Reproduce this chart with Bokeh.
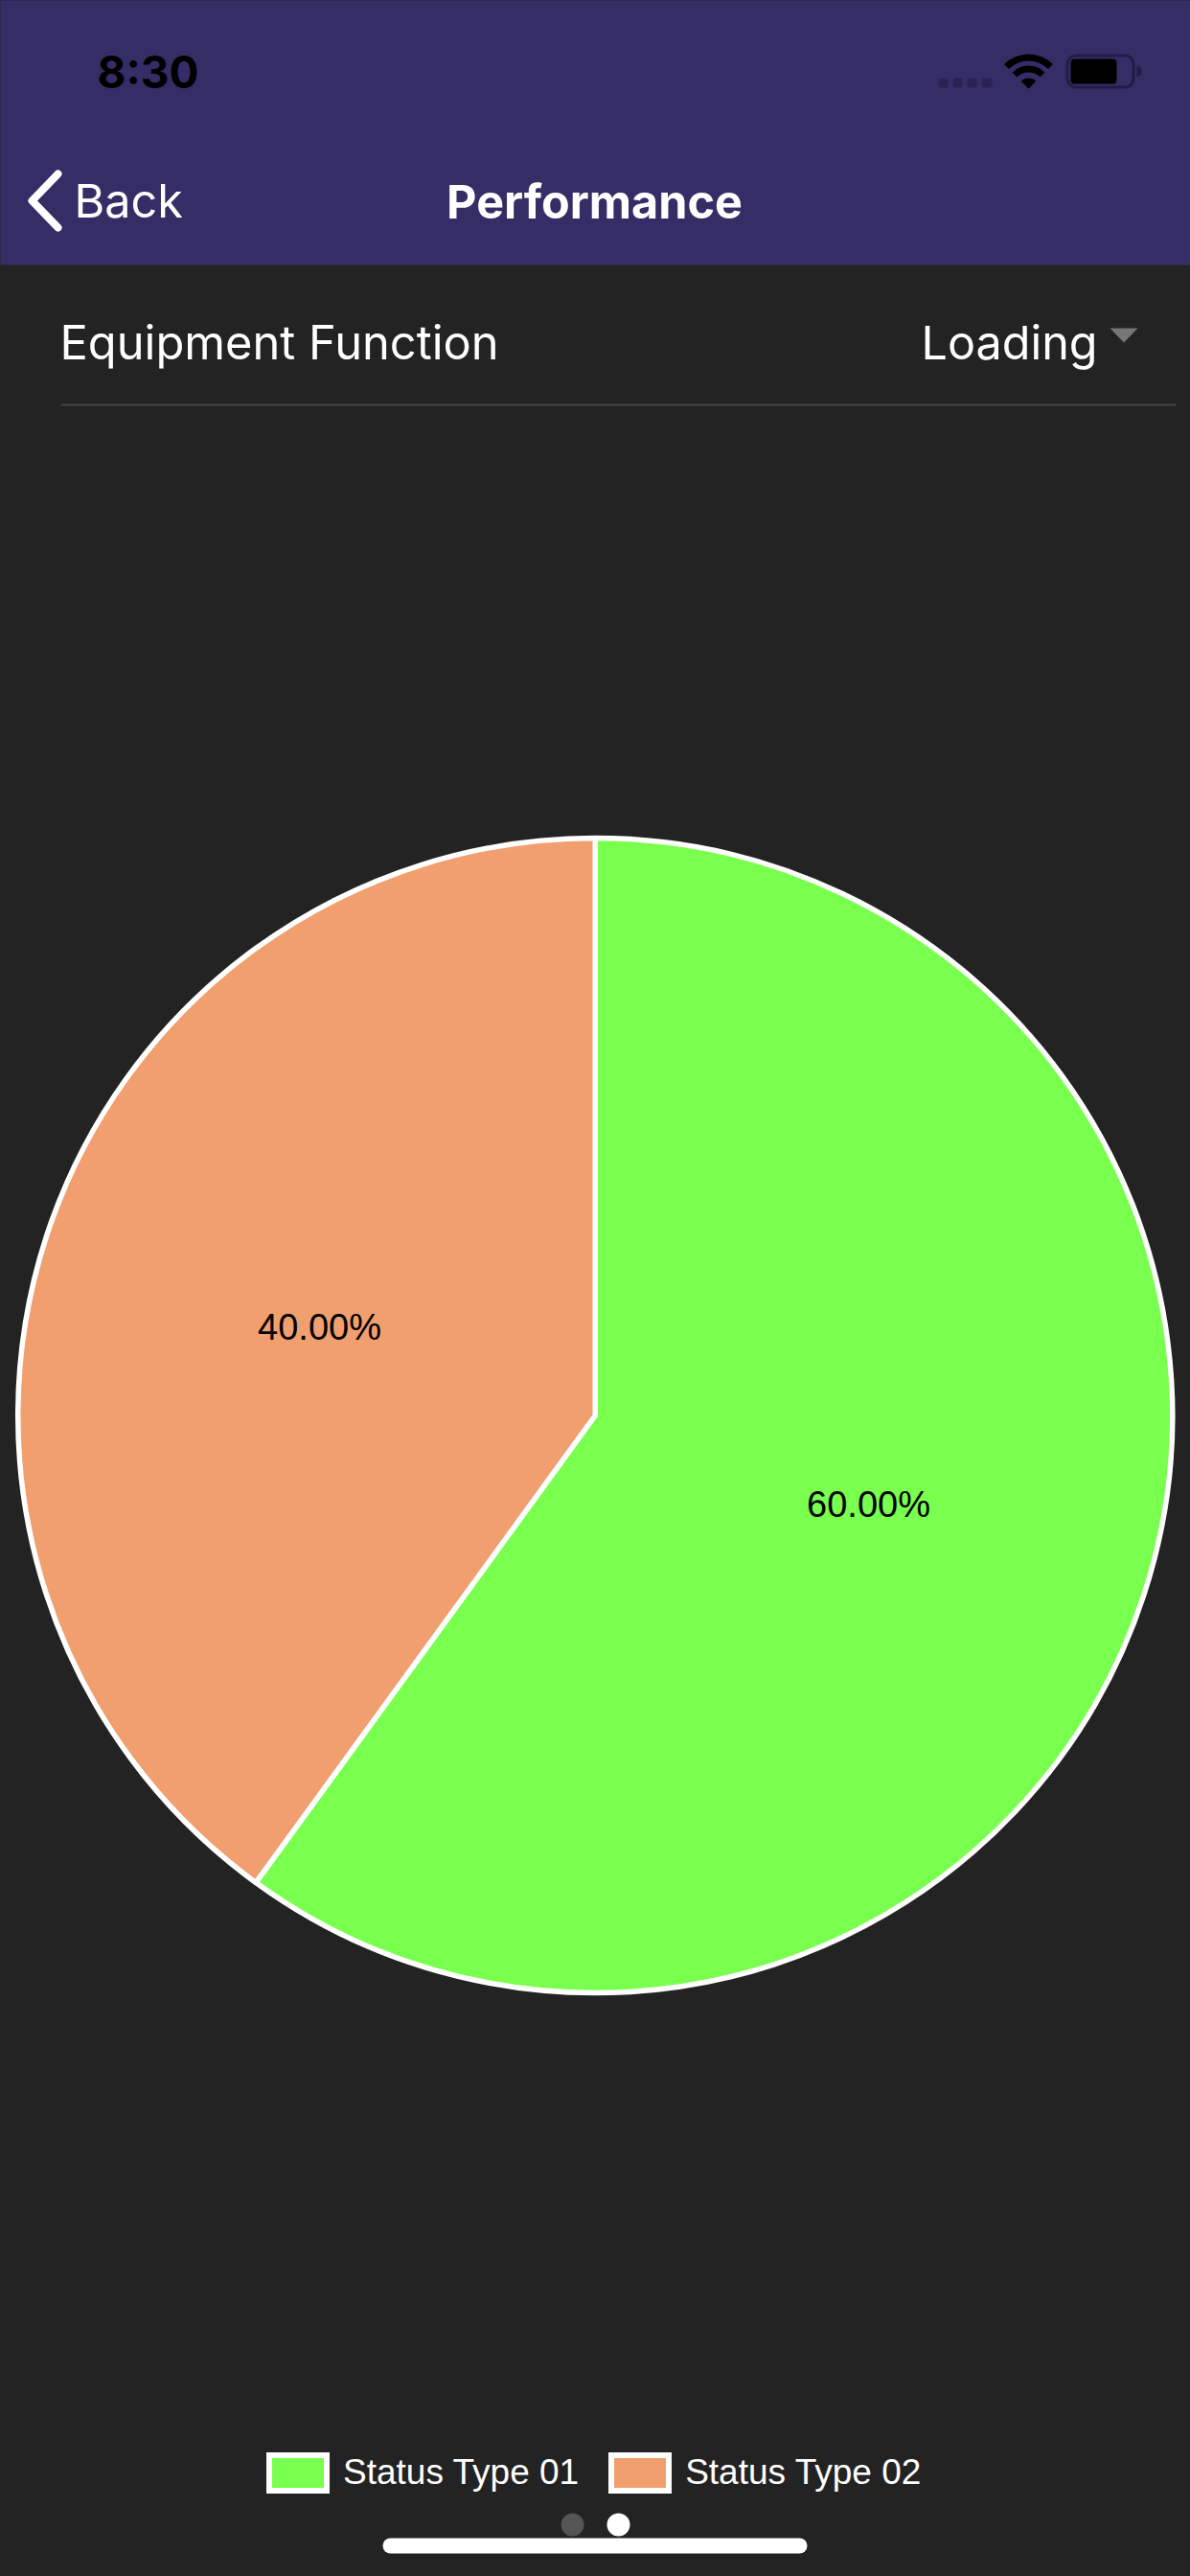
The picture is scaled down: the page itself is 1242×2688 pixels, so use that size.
from math import pi, nan
from bokeh.embed import file_html
from bokeh.resources import INLINE
from bokeh.plotting import figure
from bokeh.models import Range1d, Legend, LegendItem, ColumnDataSource
from bokeh.core.properties import value

# --- data -----------------------------------------------------------------
categories = ["Status Type 01", "Status Type 02"]
shares = [60.0, 40.0]
slice_colors = ["#79ff4d", "#f19f6e"]
slice_labels = ["60.00%", "40.00%"]

# --- page geometry: axes are reference pixels ------------------------------
W, H = 1242, 2688
PURPLE, DARK = "#352d66", "#232323"
UI_FONT = "Inter"
CHART_FONT = "Liberation Sans"

p = figure(width=W, height=H, output_backend="svg", toolbar_location=None,
           x_range=Range1d(0, W), y_range=Range1d(H, 0), min_border=0,
           background_fill_color=DARK, border_fill_color=DARK, outline_line_color=None)
p.axis.visible = False
p.grid.visible = False
p.styles = {"background": f"linear-gradient({PURPLE} 276px, {DARK} 276px)"}

# header band
p.quad(left=[0], right=[W], top=[0], bottom=[276], fill_color=PURPLE, line_color=None)

def label(x, y, s, size, color="white", align="left", style="normal", font=UI_FONT):
    p.text(x=[x], y=[y], text=[s], text_color=color, text_font=value(font),
           text_font_size=size, text_align=align, text_baseline="middle", text_font_style=style)

label(101, 74.5, "8:30", "46px", color="#000000", style="bold")
# signal dots
p.quad(left=[979, 994, 1009, 1024], right=[989, 1004, 1019, 1035], top=[81] * 4, bottom=[91] * 4,
       fill_color="#2a2352", line_color=None, border_radius=3)
# wifi
for r_in, r_out in ((29, 36), (17, 24)):
    p.annular_wedge(x=[1073], y=[92], inner_radius=r_in, outer_radius=r_out,
                    start_angle=pi / 4, end_angle=3 * pi / 4, fill_color="#000000", line_color=None)
p.wedge(x=[1073], y=[92], radius=11, start_angle=pi / 4, end_angle=3 * pi / 4,
        fill_color="#000000", line_color=None)
# battery
p.quad(left=[1113.5], right=[1182.5], top=[57.5], bottom=[90.5], fill_color=None, line_color="#211c45",
       line_width=3, border_radius=9)
p.quad(left=[1117], right=[1165], top=[61], bottom=[87], fill_color="#000000", line_color=None, border_radius=4)
p.patch(x=[1186, 1191, 1191, 1186], y=[68, 71, 77, 80], fill_color="#211c45", line_color=None)

# navigation bar
p.line(x=[60, 33, 60], y=[181, 209, 237], line_color="white", line_width=8, line_cap="round", line_join="round")
label(77, 208.5, "Back", "48.5px")
label(620, 210, "Performance", "48.5px", align="center", style="bold")

# selector row
label(62, 356.5, "Equipment Function", "48.8px")
label(961, 356.5, "Loading", "48.5px")
p.patch(x=[1158, 1187, 1172.5], y=[342, 342, 357], fill_color="#777777", line_color=None)
p.segment(x0=[63], x1=[1227], y0=[422], y1=[422], line_color="#444444", line_width=2)

# pie
cx, cy, radius = 620.7, 1476.5, 602.5
start = pi / 2
starts, ends = [], []
for s in shares:
    sweep = 2 * pi * s / sum(shares)
    starts.append(start)
    ends.append(start - sweep)
    start -= sweep
src = ColumnDataSource(dict(start=starts, end=ends, color=slice_colors))
p.wedge(x=cx, y=cy, radius=radius, start_angle="start", end_angle="end", direction="clock",
        fill_color="color", line_color="white", line_width=5.5, source=src)

label(906, 1569, slice_labels[0], "38px", color="#000000", align="center", font=CHART_FONT)
label(333, 1384, slice_labels[1], "38px", color="#000000", align="center", font=CHART_FONT)

# legend
items = []
for name, c in zip(categories, slice_colors):
    r = p.quad(left=[nan], right=[nan], top=[nan], bottom=[nan],
               fill_color=c, line_color="white", line_width=6, line_join="miter")
    items.append(LegendItem(label=name, renderers=[r]))
legend = Legend(items=items, orientation="horizontal", location=(273, 85), margin=0, padding=0,
                glyph_width=75, glyph_height=46, label_standoff=10, spacing=26,
                label_text_font=CHART_FONT, label_text_font_size="37px", label_text_color="white",
                background_fill_alpha=0, border_line_color=None)
p.add_layout(legend, "center")

# page dots and home bar
p.ellipse(x=[597], y=[2634], width=24, height=24, fill_color="#555555", line_color=None)
p.ellipse(x=[645], y=[2634], width=24, height=24, fill_color="#ffffff", line_color=None)
p.quad(left=[399], right=[842], top=[2648], bottom=[2664], fill_color="white", line_color=None, border_radius=8)

open("out.html", "w").write(file_html(p, INLINE))
